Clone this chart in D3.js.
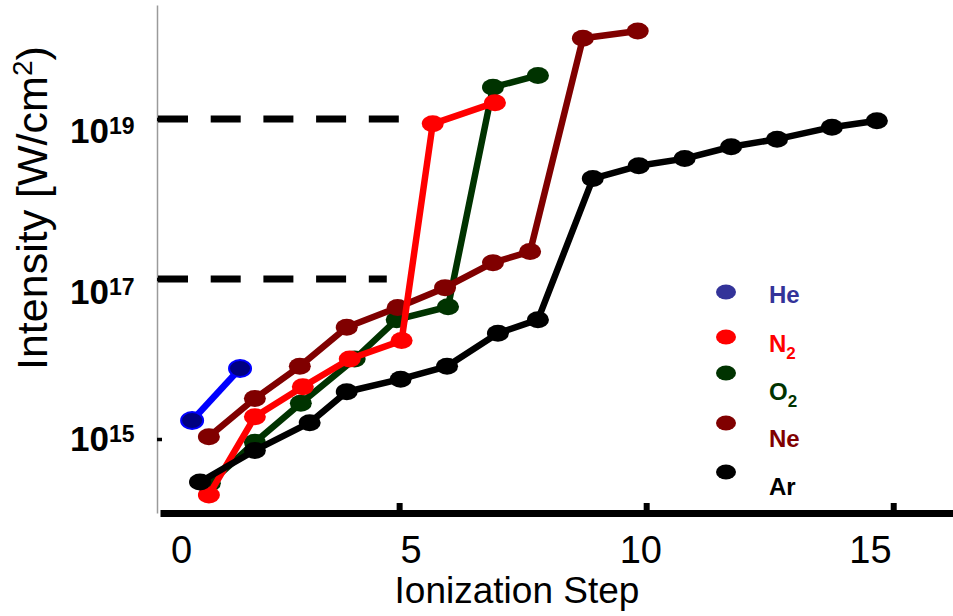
<!DOCTYPE html>
<html>
<head>
<meta charset="utf-8">
<script src="https://cdn.jsdelivr.net/npm/d3@7"></script>
<style>
  html, body { margin: 0; padding: 0; background: #fff; }
  svg { display: block; font-family: "Liberation Sans", Arial, Helvetica, sans-serif; }
</style>
</head>
<body>
<div id="chart"></div>
<script>
// ===== data =====
const seriesNames = ["He", "N2", "O2", "Ne", "Ar"];

const heSteps     = [0.81, 1.78];
const heIntensity = [1.7e15, 7.6e15];

const n2Steps     = [1.15, 2.08, 3.05, 4.00, 5.05, 5.68, 6.94];
const n2Intensity = [2.0e14, 1.9e15, 4.5e15, 1.0e16, 1.7e16, 8.7e18, 1.6e19];

const o2Steps     = [1.17, 2.08, 3.01, 4.10, 4.95, 5.99, 6.90, 7.81];
const o2Intensity = [2.8e14, 9.1e14, 2.8e15, 1.0e16, 3.1e16, 4.5e16, 2.5e19, 3.5e19];

const neSteps     = [1.15, 2.08, 2.99, 3.94, 4.97, 5.93, 6.90, 7.65, 8.72, 9.83];
const neIntensity = [1.07e15, 3.2e15, 8.1e15, 2.5e16, 4.4e16, 7.8e16, 1.6e17, 2.2e17, 1.02e20, 1.26e20];

const arSteps     = [0.97, 2.08, 3.19, 3.94, 5.03, 5.97, 7.00, 7.81, 8.92, 9.85, 10.78, 11.72, 12.65, 13.76, 14.67];
const arIntensity = [2.9e14, 7.2e14, 1.6e15, 3.9e15, 5.6e15, 8.1e15, 2.1e16, 3.1e16, 1.8e18, 2.6e18, 3.2e18, 4.5e18, 5.6e18, 7.9e18, 9.5e18];

const xTickValues = [0, 5, 10, 15];
const yTickExponents = [15, 17, 19];
const refLevels = [1e19, 1e17];      // dashed guide lines
const refEndSteps = [5.0, 4.75];

(function () {
  const W = 953, H = 616;

  const svg = d3.select("#chart").append("svg")
    .attr("width", W).attr("height", H)
    .style("background", "#fff");

  // scales
  const x = d3.scaleLinear().domain([0.16, 16.21]).range([160, 953]);
  const xLab = d3.scaleLinear().domain([0, 15]).range([181, 870]); // labels sit off the tick marks
  const y = d3.scaleLog().domain([Math.pow(10, 14.075), Math.pow(10, 20.425)]).range([513, 5]);

  const series = [
    { name: "O2", steps: o2Steps, vals: o2Intensity, line: "#003300", fill: "#003300", stroke: "none" },
    { name: "Ne", steps: neSteps, vals: neIntensity, line: "#800000", fill: "#800000", stroke: "none" },
    { name: "N2", steps: n2Steps, vals: n2Intensity, line: "#ff0000", fill: "#ff0000", stroke: "none" },
    { name: "Ar", steps: arSteps, vals: arIntensity, line: "#000000", fill: "#000000", stroke: "none" },
    { name: "He", steps: heSteps, vals: heIntensity, line: "#0000ff", fill: "#000080", stroke: "#0000ff" }
  ];

  // y axis (thin grey line, tiny inward ticks)
  const yAxisG = svg.append("g")
    .attr("transform", "translate(157,0)")
    .call(d3.axisLeft(y)
      .tickValues(yTickExponents.map(e => Math.pow(10, e)))
      .tickSize(-5).tickSizeOuter(0).tickFormat(""));
  yAxisG.select(".domain").attr("stroke", "#9a9a9a").attr("stroke-width", 1.5);
  yAxisG.selectAll(".tick line").attr("stroke", "#000").attr("stroke-width", 3.5);

  const labelDy = { 19: 23, 17: 24, 15: 11 };
  yAxisG.selectAll(".tick").each(function (d) {
    const e = Math.round(Math.log10(d));
    const t = d3.select(this).append("text")
      .attr("x", -87).attr("y", labelDy[e])
      .attr("text-anchor", "start")
      .attr("fill", "#000")
      .style("font-weight", "bold").style("font-size", "35px");
    t.append("tspan").text("10");
    t.append("tspan").attr("dy", -9).style("font-size", "23px").text(e);
  });

  // dashed guide lines
  svg.selectAll("line.ref")
    .data(refLevels)
    .join("line")
    .attr("class", "ref")
    .attr("x1", 158)
    .attr("x2", (d, i) => x(refEndSteps[i]))
    .attr("y1", d => y(d)).attr("y2", d => y(d))
    .attr("stroke", "#000").attr("stroke-width", 7)
    .attr("stroke-dasharray", "30,22.7");

  // series
  const lineGen = d3.line().x(d => x(d[0])).y(d => y(d[1]));
  series.forEach(s => {
    const pts = s.steps.map((st, i) => [st, s.vals[i]]);
    const g = svg.append("g").attr("class", "series-" + s.name);
    g.append("path")
      .datum(pts)
      .attr("d", lineGen)
      .attr("fill", "none")
      .attr("stroke", s.line)
      .attr("stroke-width", 6.5)
      .attr("stroke-linejoin", "round");
    g.selectAll("ellipse")
      .data(pts)
      .join("ellipse")
      .attr("cx", d => x(d[0]))
      .attr("cy", d => y(d[1]))
      .attr("rx", 11).attr("ry", 8.5)
      .attr("fill", s.fill)
      .attr("stroke", s.stroke)
      .attr("stroke-width", 2);
  });

  // x axis (thick black line, short upward ticks)
  const xAxisG = svg.append("g")
    .attr("transform", "translate(0,513)")
    .call(d3.axisBottom(x).tickValues([5, 10, 15]).tickSize(-10).tickSizeOuter(0).tickFormat(""));
  xAxisG.select(".domain").attr("stroke", "#000").attr("stroke-width", 7);
  xAxisG.selectAll(".tick line").attr("stroke", "#000").attr("stroke-width", 6);

  const xLabG = svg.append("g")
    .attr("transform", "translate(0,513)")
    .call(d3.axisBottom(xLab).tickValues(xTickValues).tickSize(0).tickFormat(d3.format("d")));
  xLabG.select(".domain").remove();
  xLabG.selectAll(".tick text")
    .attr("y", 50).attr("dy", 0)
    .attr("fill", "#000")
    .style("font-size", "38px");

  // axis titles
  svg.append("text")
    .attr("x", 517).attr("y", 603)
    .attr("text-anchor", "middle")
    .style("font-size", "37px")
    .text("Ionization Step");

  const yt = svg.append("text")
    .attr("transform", "translate(47,370) rotate(-90)")
    .attr("text-anchor", "start")
    .style("font-size", "43px");
  yt.append("tspan").text("Intensity [W/cm");
  yt.append("tspan").attr("dy", -15).style("font-size", "28px").text("2");
  yt.append("tspan").attr("dy", 15).text(")");

  // legend
  const legendColors = { He: "#333399", N2: "#ff0000", O2: "#003300", Ne: "#800000", Ar: "#000000" };
  const legendMarkerY = [292, 337, 373, 423, 472];
  const legendTextY = [303, 352, 400, 447, 495];
  const lg = svg.append("g").attr("class", "legend");
  seriesNames.forEach((name, i) => {
    lg.append("ellipse")
      .attr("cx", 726).attr("cy", legendMarkerY[i])
      .attr("rx", 10).attr("ry", 7.5)
      .attr("fill", legendColors[name]);
    const t = lg.append("text")
      .attr("x", 769).attr("y", legendTextY[i])
      .attr("fill", legendColors[name])
      .style("font-weight", "bold").style("font-size", "24px");
    const m = name.match(/^([A-Za-z]+)(\d*)$/);
    t.append("tspan").text(m[1]);
    if (m[2]) t.append("tspan").attr("dy", 7).style("font-size", "17px").text(m[2]);
  });
})();
</script>
</body>
</html>
